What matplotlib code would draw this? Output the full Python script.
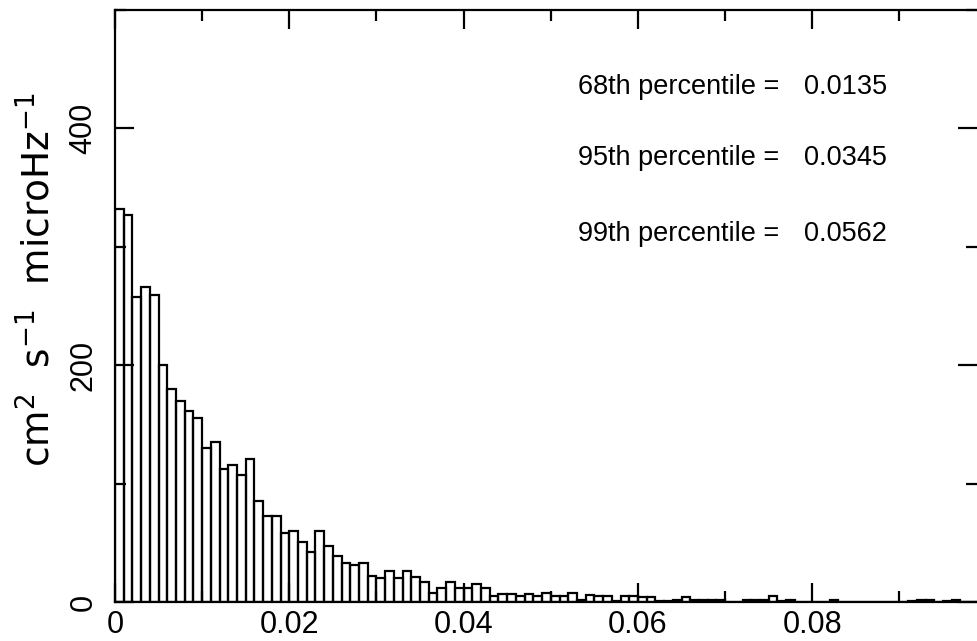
import numpy as np
import matplotlib
matplotlib.use("Agg")
import matplotlib.pyplot as plt
from matplotlib.ticker import MultipleLocator

plt.rcParams['font.family'] = ['Liberation Sans', 'DejaVu Sans']
plt.rcParams['mathtext.default'] = 'regular'

# histogram counts per 0.001-wide bin, starting at 0
bin_width = 0.001
counts = [
    332, 327, 258, 266, 259, 200, 180, 170, 161, 155,
    130, 135, 112, 116, 107, 121, 85, 73, 73, 58,
    60, 51, 42, 60, 47, 39, 33, 31, 33, 22,
    20, 26, 20, 26, 21, 17, 8, 12, 17, 12,
    12, 15, 12, 5, 7, 7, 5, 7, 5, 8,
    5, 5, 8, 2, 6, 5, 5, 1, 5, 5,
    4, 4, 1, 1, 2, 4, 2, 2, 2, 2,
    0, 0, 2, 2, 2, 5, 1, 2, 0, 0,
    0, 0, 2, 0, 0, 0, 0, 0, 0, 0,
    0, 1, 2, 2, 0, 1, 2, 0, 0,
]

percentile_names = ["68th percentile =", "95th percentile =", "99th percentile ="]
percentile_values = ["0.0135", "0.0345", "0.0562"]

x_tick_labels = ["0", "0.02", "0.04", "0.06", "0.08"]
y_tick_labels = ["0", "200", "400"]

fig = plt.figure(figsize=(9.77, 6.41), dpi=100)
ax = fig.add_axes([115 / 977, 39 / 641, 862 / 977, 592 / 641])

lefts = np.arange(len(counts)) * bin_width
ax.bar(lefts, counts, width=bin_width, align='edge', fill=False,
       edgecolor='black', linewidth=1.6)

ax.set_xlim(0, 0.0989)
ax.set_ylim(0, 500)

ax.xaxis.set_minor_locator(MultipleLocator(0.01))
ax.yaxis.set_minor_locator(MultipleLocator(100))
ax.set_xticks([0, 0.02, 0.04, 0.06, 0.08])
ax.set_xticklabels(x_tick_labels)
ax.set_yticks([0, 200, 400])
ax.set_yticklabels(y_tick_labels)

ax.tick_params(which='both', direction='in', top=True, right=True,
               width=1.6, colors='black')
ax.tick_params(which='major', length=14)
ax.tick_params(which='minor', length=8)
ax.tick_params(axis='x', which='major', labelsize=22, pad=6)
ax.tick_params(axis='y', which='major', labelsize=22, pad=12, labelrotation=90)
for lab in ax.get_yticklabels():
    lab.set_verticalalignment('center')

for side in ['left', 'top', 'bottom']:
    ax.spines[side].set_linewidth(1.6)
ax.spines['right'].set_visible(False)

ax.set_ylabel(r'cm$^{2}$  s$^{-1}$  microHz$^{-1}$', fontsize=27,
              family=['DejaVu Sans'])
ax.yaxis.set_label_coords(-0.066, 0.545)

row_y = [435, 375, 311]
for name, val, yv in zip(percentile_names, percentile_values, row_y):
    ax.text(0.0531, yv, name, fontsize=19.5, ha='left', va='center')
    ax.text(0.0791, yv, val, fontsize=19.5, ha='left', va='center')

fig.savefig("out.png", dpi=100)
